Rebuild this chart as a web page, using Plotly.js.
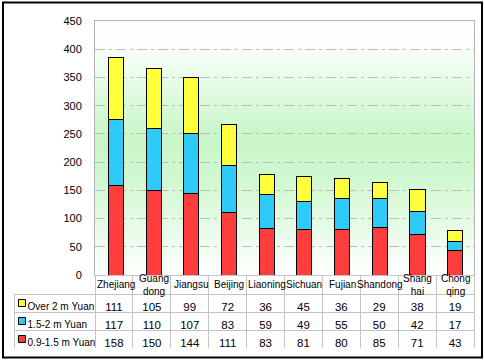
<!DOCTYPE html>
<html>
<head>
<meta charset="utf-8">
<script src="https://cdn.plot.ly/plotly-3.0.1.min.js"></script>
<style>
html,body{margin:0;padding:0;background:#fff;}
#chart{width:485px;height:362px;}
</style>
</head>
<body>
<div id="chart"></div>
<script>
var categories = ['Zhejiang','Guang<br>dong','Jiangsu','Beijing','Liaoning','Sichuan','Fujian','Shandong','Shang<br>hai','Chong<br>qing'];
var seriesNames = ['Over 2 m Yuan','1.5-2 m Yuan','0.9-1.5 m Yuan'];
var over2 = [111,105,99,72,36,45,36,29,38,19];
var mid15 = [117,110,107,83,59,49,55,50,42,17];
var low09 = [158,150,144,111,83,81,80,85,71,43];

var colors = {over:'#ffff3c', mid:'#2fcbf8', low:'#ff3d3d'};

// geometry (pixels)
var W = 485, H = 362, ML = 14, MR = 11, MT = 21, MB = 14;
var PW = W - ML - MR, PH = H - MT - MB;
var firstColW = 81;
var xStart = firstColW / PW;
var headerH = 19, rowH = 18;
var tableH = headerH + 3 * rowH;
var yStart = tableH / PH;

var font = 'Arial, "Liberation Sans", sans-serif';

var traces = [
  {type:'bar', name:seriesNames[2], x:categories, y:low09, marker:{color:colors.low, line:{color:'#000', width:1}}, xaxis:'x', yaxis:'y', hoverinfo:'skip'},
  {type:'bar', name:seriesNames[1], x:categories, y:mid15, marker:{color:colors.mid, line:{color:'#000', width:1}}, xaxis:'x', yaxis:'y', hoverinfo:'skip'},
  {type:'bar', name:seriesNames[0], x:categories, y:over2, marker:{color:colors.over, line:{color:'#000', width:1}}, xaxis:'x', yaxis:'y', hoverinfo:'skip'}
];

// data table (header row = category row; its labels are drawn as annotations)
var gridC = '#c4c4c4';
var tableCols = [seriesNames.map(function(s){return '\u00a0\u00a0' + s.replace(/ /g, '\u00a0');})];
var colW = [firstColW];
var headerLine = ['rgba(0,0,0,0)'];
var headerVals = ['\u00a0'];
var aligns = ['left'];
for (var i = 0; i < categories.length; i++) {
  tableCols.push([over2[i], mid15[i], low09[i]]);
  colW.push((PW - firstColW) / categories.length);
  headerLine.push(gridC);
  headerVals.push('\u00a0');
  aligns.push('center');
}
traces.push({
  type:'table',
  domain:{x:[0,1], y:[0, yStart]},
  columnwidth: colW,
  header:{
    values: headerVals,
    height: headerH,
    fill:{color:'rgba(0,0,0,0)'},
    line:{color: headerLine, width:1},
    font:{family:font, size:9, color:'#000'}
  },
  cells:{
    values: tableCols,
    height: rowH,
    align: aligns,
    fill:{color:'rgba(0,0,0,0)'},
    line:{color: gridC, width:1},
    font:{family:font, size:[10].concat(categories.map(function(){return 11.5;})), color:'#000'}
  }
});

// legend keys in table's first column
var keyColors = [colors.low, colors.mid, colors.over];
traces.push({
  type:'scatter', mode:'markers', xaxis:'x2', yaxis:'y2',
  x:[8,8,8], y:[0.5,1.5,2.5],
  marker:{symbol:'square', size:7, color:keyColors, line:{color:'#000', width:1}},
  hoverinfo:'skip', showlegend:false
});

// plot-area background gradient (white -> light green -> white), as overlapping strips
var gradStops = [[0,[255,255,255]],[0.1,[251,254,251]],[0.45,[200,247,200]],[0.62,[207,248,207]],[1,[255,255,255]]];
function gradAt(t){
  for (var k = 1; k < gradStops.length; k++) {
    if (t <= gradStops[k][0]) {
      var a = gradStops[k-1], b = gradStops[k];
      var f = (t - a[0]) / (b[0] - a[0]);
      var c = a[1].map(function(v, n){ return Math.round(v + (b[1][n] - v) * f); });
      return 'rgb(' + c.join(',') + ')';
    }
  }
  return 'rgb(255,255,255)';
}
var shapes = [];
var NS = 64;
for (var s = 0; s < NS; s++) {
  shapes.push({type:'rect', xref:'x domain', yref:'y domain', x0:0, x1:1, y0:0, y1:1 - s/NS,
    fillcolor:gradAt((s + 0.5)/NS), line:{width:0}, layer:'below'});
}
shapes.push({type:'rect', xref:'paper', yref:'paper',
  x0:(3-ML)/PW, x1:(482-ML)/PW, y0:(H-MB-357.5)/PH, y1:(H-MB-2.5)/PH,
  line:{color:'#000', width:2}, fillcolor:'rgba(0,0,0,0)'});

var annotations = categories.map(function(c){
  return {x:c, xref:'x', y:(3*rowH + headerH/2)/PH, yref:'paper', yanchor:'middle', xanchor:'center',
    text:c, showarrow:false, font:{family:font, size:10, color:'#000'}};
});

var layout = {
  width:W, height:H,
  margin:{l:ML, r:MR, t:MT, b:MB, pad:0},
  paper_bgcolor:'#ffffff',
  plot_bgcolor:'rgba(0,0,0,0)',
  barmode:'stack',
  bargap:0.6,
  showlegend:false,
  font:{family:font, size:10, color:'#000'},
  xaxis:{domain:[xStart,1], showticklabels:false, ticks:'', showgrid:false, zeroline:false,
    showline:true, mirror:true, linecolor:'#b4b4b4', linewidth:1, fixedrange:true},
  yaxis:{domain:[yStart,1], range:[0,450], dtick:50, tick0:0, showgrid:true, gridcolor:'#bdbdbd',
    griddash:'10px,4px,3px,4px', gridwidth:1, zeroline:false, showline:true, mirror:true,
    linecolor:'#b4b4b4', linewidth:1, ticks:'', ticklabelstandoff:10,
    tickfont:{family:font, size:11, color:'#000'}, fixedrange:true},
  xaxis2:{domain:[0, firstColW/PW], range:[0, firstColW], visible:false, fixedrange:true, anchor:'y2'},
  yaxis2:{domain:[0, 3*rowH/PH], range:[0,3], visible:false, fixedrange:true, anchor:'x2'},
  annotations:annotations,
  shapes:shapes
};

Plotly.newPlot('chart', traces, layout, {displayModeBar:false, staticPlot:true});
</script>
</body>
</html>
